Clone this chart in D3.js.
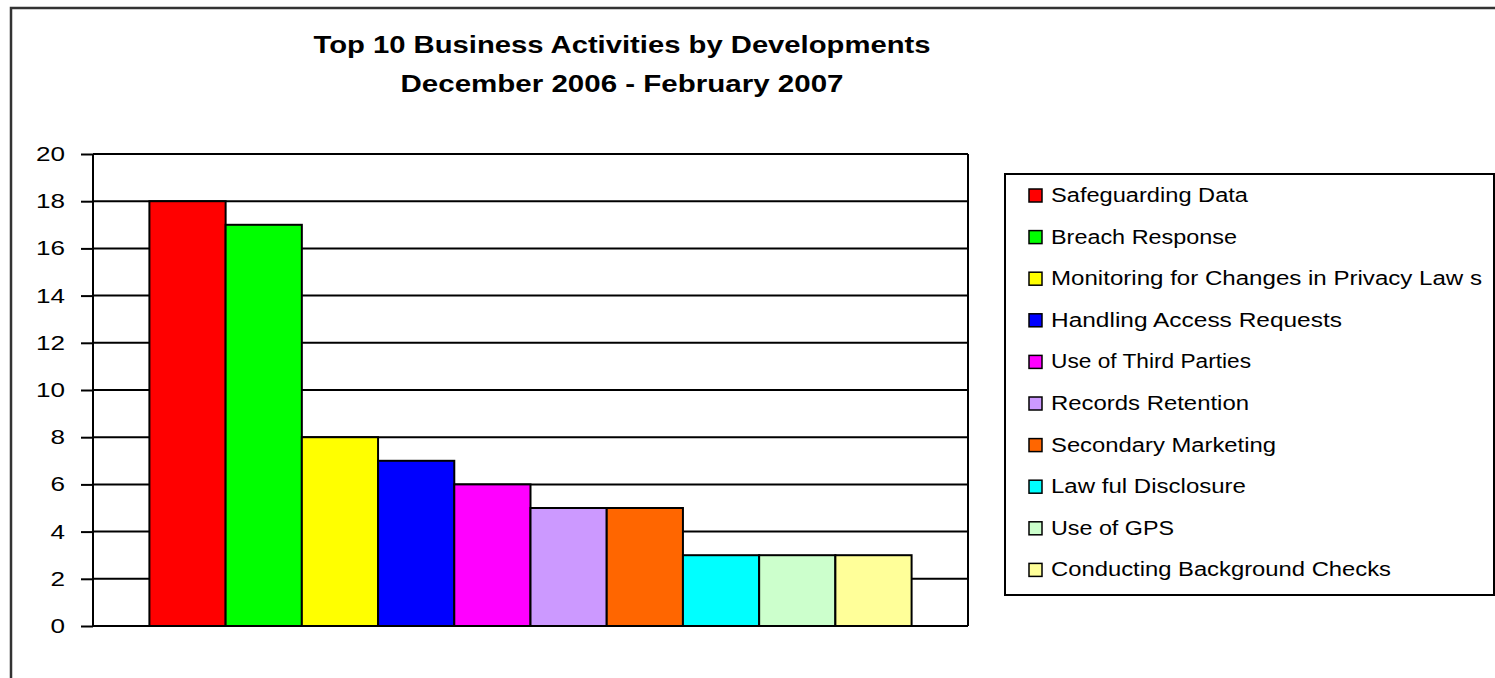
<!DOCTYPE html>
<html><head><meta charset="utf-8">
<script src="https://cdn.jsdelivr.net/npm/d3@7"></script>
<style>html,body{margin:0;padding:0;background:#fff;overflow:hidden}</style>
</head><body>
<svg id="c" width="1495" height="678"></svg>
<script>
const categories = ["Safeguarding Data","Breach Response","Monitoring for Changes in Privacy Laws","Handling Access Requests","Use of Third Parties","Records Retention","Secondary Marketing","Lawful Disclosure","Use of GPS","Conducting Background Checks"];
const legendLabels = ["Safeguarding Data","Breach Response","Monitoring for Changes in Privacy Law s","Handling Access Requests","Use of Third Parties","Records Retention","Secondary Marketing","Law ful Disclosure","Use of GPS","Conducting Background Checks"];
const values = [18,17,8,7,6,5,5,3,3,3];
const colors = ["#FF0000","#00FF00","#FFFF00","#0000FF","#FF00FF","#CC99FF","#FF6600","#00FFFF","#CCFFCC","#FFFF99"];
const yTicks = [0,2,4,6,8,10,12,14,16,18,20];
const titleLines = ["Top 10 Business Activities by Developments","December 2006 - February 2007"];

const svg = d3.select("#c");
const font = "'Liberation Sans', Arial, sans-serif";
const L = 93, R = 968, T = 154, B = 626;

// outer chart border
svg.append("rect").attr("x",11).attr("y",8).attr("width",1500).attr("height",700)
  .attr("fill","#fff").attr("stroke","#333").attr("stroke-width",2.5);

// title
const tw = [617, 443];
titleLines.forEach((t,i)=>{
  svg.append("text").attr("x",622).attr("y",[53,92][i]).attr("text-anchor","middle")
    .attr("font-family",font).attr("font-weight","bold").attr("font-size",23)
    .attr("textLength",tw[i]).attr("lengthAdjust","spacingAndGlyphs")
    .attr("fill","#000").text(t);
});

const x = d3.scaleBand().domain(categories).range([L,R]).paddingInner(0).paddingOuter(0.74);
const y = d3.scaleLinear().domain([0,20]).range([B,T]);

// gridlines
svg.append("g").selectAll("line").data(yTicks).join("line")
  .attr("x1",L).attr("x2",R).attr("y1",d=>y(d)).attr("y2",d=>y(d))
  .attr("stroke","#000").attr("stroke-width",2);
// right border
svg.append("line").attr("x1",R).attr("x2",R).attr("y1",T).attr("y2",B).attr("stroke","#000").attr("stroke-width",2);

// bars
svg.append("g").selectAll("rect").data(values).join("rect")
  .attr("x",(d,i)=>x(categories[i])).attr("width",x.bandwidth())
  .attr("y",d=>y(d)).attr("height",d=>B-y(d))
  .attr("fill",(d,i)=>colors[i]).attr("stroke","#000").attr("stroke-width",2);

// y axis
const ax = svg.append("g").attr("transform",`translate(${L},0)`)
  .call(d3.axisLeft(y).tickValues(yTicks).tickFormat(d3.format("d")).tickSize(12).tickPadding(16));
ax.select(".domain").attr("stroke","#000").attr("stroke-width",2).attr("d",`M-0,${T}V${B}`);
ax.selectAll(".tick line").attr("stroke","#000").attr("stroke-width",2);
ax.selectAll(".tick text").attr("font-family",font).attr("font-size",20).attr("fill","#000")
  .attr("textLength",d=>String(d).length*14.5).attr("lengthAdjust","spacingAndGlyphs");

// legend
const lg = svg.append("g");
lg.append("rect").attr("x",1005).attr("y",174).attr("width",489).attr("height",421)
  .attr("fill","#fff").attr("stroke","#000").attr("stroke-width",2);
const lw = [197,186,431,291,200,198,225,195,123,340];
legendLabels.forEach((t,i)=>{
  const cy = 195 + i*41.6;
  lg.append("rect").attr("x",1029).attr("y",cy-6).attr("width",13).attr("height",13)
    .attr("fill",colors[i]).attr("stroke","#000").attr("stroke-width",1.5);
  lg.append("text").attr("x",1051).attr("y",cy+7).attr("font-family",font).attr("font-size",20)
    .attr("textLength",lw[i]).attr("lengthAdjust","spacingAndGlyphs")
    .attr("fill","#000").text(t);
});
</script>
</body></html>
